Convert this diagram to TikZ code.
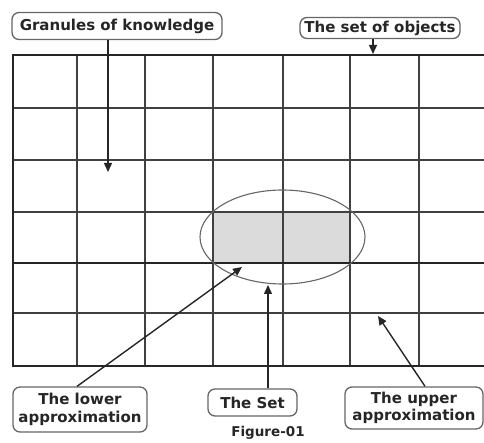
\documentclass[tikz,border=0pt]{standalone}
\usepackage{fontspec}
\setmainfont{DejaVu Sans}
\usetikzlibrary{arrows.meta,shapes.geometric}
\begin{document}
\begin{tikzpicture}[x=1pt,y=-1pt,
  gridline/.style={draw=black!75,line width=1.3pt},
  thickline/.style={draw=black!85,line width=2pt},
  labelbox/.style={draw=black!60,line width=1.3pt,rounded corners=7pt,fill=white,
    font=\bfseries\fontsize{15}{17.5}\selectfont,align=center,inner sep=1pt,text=black!85},
  pointer/.style={draw=black!85,line width=1.4pt,-{Triangle[length=9pt,width=8pt]}}]
\useasboundingbox (0,0) rectangle (484,443);
% shaded cells
\fill[gray!28] (213,212) rectangle (350,263);
% vertical grid lines
\foreach \x in {77,145,213,283,350,419}
  \draw[gridline] (\x,55) -- (\x,366);
% horizontal grid lines
\foreach \y in {108,160,212,313}
  \draw[gridline] (13,\y) -- (484,\y);
\draw[thickline] (13,263) -- (484,263);
\draw[thickline] (484,55) -- (13,55) -- (13,366) -- (484,366);
% the set (ellipse)
\node[draw=black!60,line width=1.1pt,ellipse,minimum width=165,minimum height=94,inner sep=0pt] (setell) at (282.5,237) {};
% labels
\node[labelbox,minimum width=210,minimum height=27] (gran) at (117,26) {Granules of knowledge};
\node[labelbox,minimum width=160,minimum height=21] (objs) at (380,28) {The set of objects};
\node[labelbox,minimum width=134,minimum height=45] (lower) at (80,409.5) {The lower\\approximation};
\node[labelbox,minimum width=89,minimum height=27] (theset) at (252.5,402.5) {The Set};
\node[labelbox,minimum width=138,minimum height=42] (upper) at (414,408) {The upper\\approximation};
\node[font=\bfseries\fontsize{13.5}{15}\selectfont,text=black!85] (fig) at (268,433) {Figure-01};
% pointer ends
\coordinate (gk) at (108,172);
\coordinate (ob) at (373,54);
\coordinate (lw) at (242,267);
\coordinate (lws) at (77,387);
\coordinate (st) at (268,285);
\coordinate (up) at (378,316);
\coordinate (ups) at (425,387);
\draw[pointer] (gk |- gran.south) -- (gk);
\draw[pointer] (ob |- objs.south) -- (ob);
\draw[pointer] (lws |- lower.north) -- (lw);
\draw[pointer] (st |- theset.north) -- (st);
\draw[pointer] (ups |- upper.north) -- (up);
\end{tikzpicture}
\end{document}
